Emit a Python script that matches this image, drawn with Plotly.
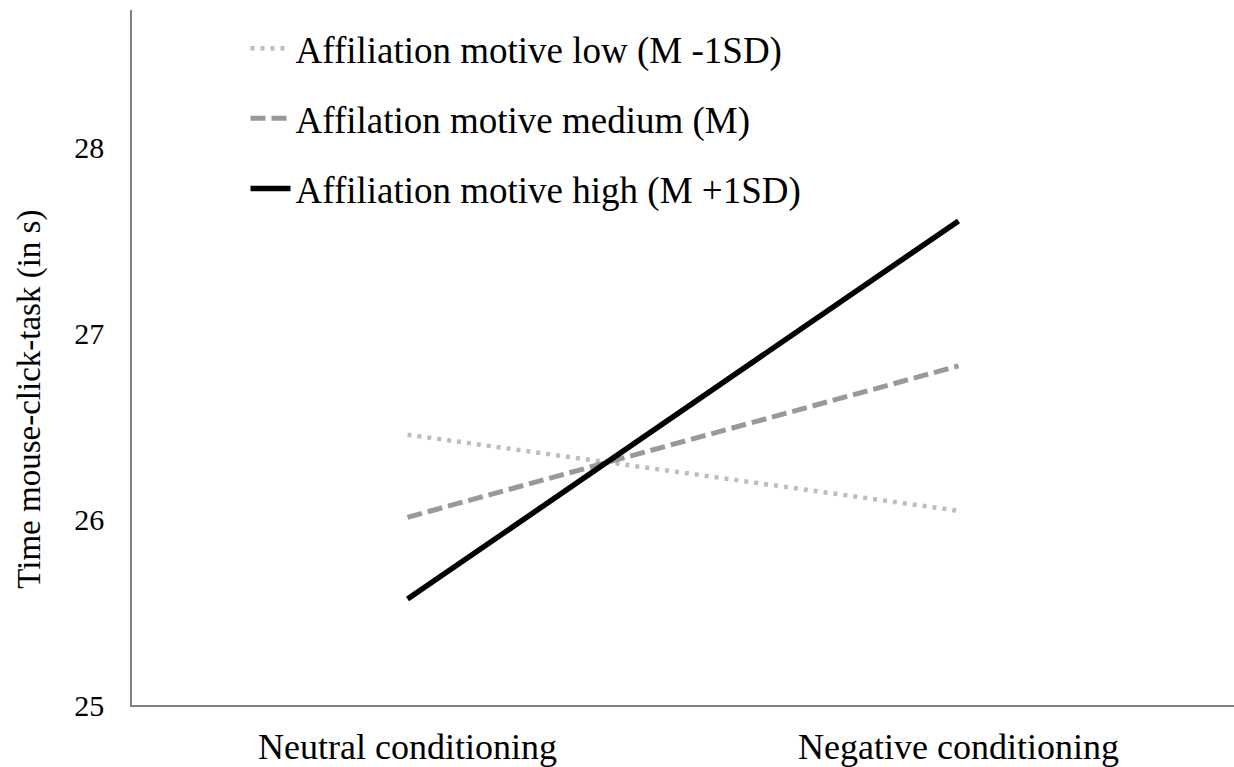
import plotly.graph_objects as go

categories = ["Neutral conditioning", "Negative conditioning"]
low_vals = [26.455, 26.045]
medium_vals = [26.01, 26.825]
high_vals = [25.57, 27.605]
series_names = [
    "Affiliation motive low (M -1SD)",
    "Affilation motive medium (M)",
    "Affiliation motive high (M +1SD)",
]
y_ticks = [25, 26, 27, 28]
y_title = "Time mouse-click-task (in s)"

FONT = "Liberation Serif, Times New Roman, serif"

fig = go.Figure()
styles = [
    dict(color="#BDBDBD", width=4.5, dash="4px,6px"),
    dict(color="#999999", width=5, dash="15px,6px"),
    dict(color="#000000", width=5.5, dash="solid"),
]
for name, vals, st, g in zip(series_names, [low_vals, medium_vals, high_vals], styles, ["a", "b", "c"]):
    fig.add_trace(go.Scatter(
        x=categories, y=vals, mode="lines", name=name,
        line=dict(color=st["color"], width=st["width"], dash=st["dash"]),
        legendgroup=g,
    ))

fig.update_layout(
    width=1234, height=767,
    margin=dict(l=132, r=0, t=10, b=62, autoexpand=False),
    paper_bgcolor="white", plot_bgcolor="white",
    font=dict(family=FONT, size=30, color="black"),
    showlegend=True,
    legend=dict(
        x=0.103, y=0.989, xanchor="left", yanchor="top",
        bgcolor="rgba(0,0,0,0)", font=dict(family=FONT, size=37),
        tracegroupgap=19, itemwidth=40,
    ),
    xaxis=dict(
        type="category", range=[-0.5, 1.5],
        showline=True, linecolor="#808080", linewidth=1.5,
        showgrid=False, zeroline=False, ticks="",
        ticklabelstandoff=9,
        tickfont=dict(family=FONT, size=36),
    ),
    yaxis=dict(
        range=[25, 28.74], tickvals=y_ticks,
        showline=True, linecolor="#808080", linewidth=1.5,
        showgrid=False, zeroline=False, ticks="",
        ticklabelstandoff=20,
        tickfont=dict(family=FONT, size=30),
    ),
    annotations=[dict(
        text=y_title, textangle=-90, showarrow=False,
        xref="paper", yref="paper", x=-0.093, y=0.44,
        xanchor="center", yanchor="middle",
        font=dict(family=FONT, size=33, color="black"),
    )],
)

fig.write_html(
    "out.html",
    config={"displayModeBar": False},
    post_script="document.body.style.margin='0';document.body.style.padding='0';",
)
